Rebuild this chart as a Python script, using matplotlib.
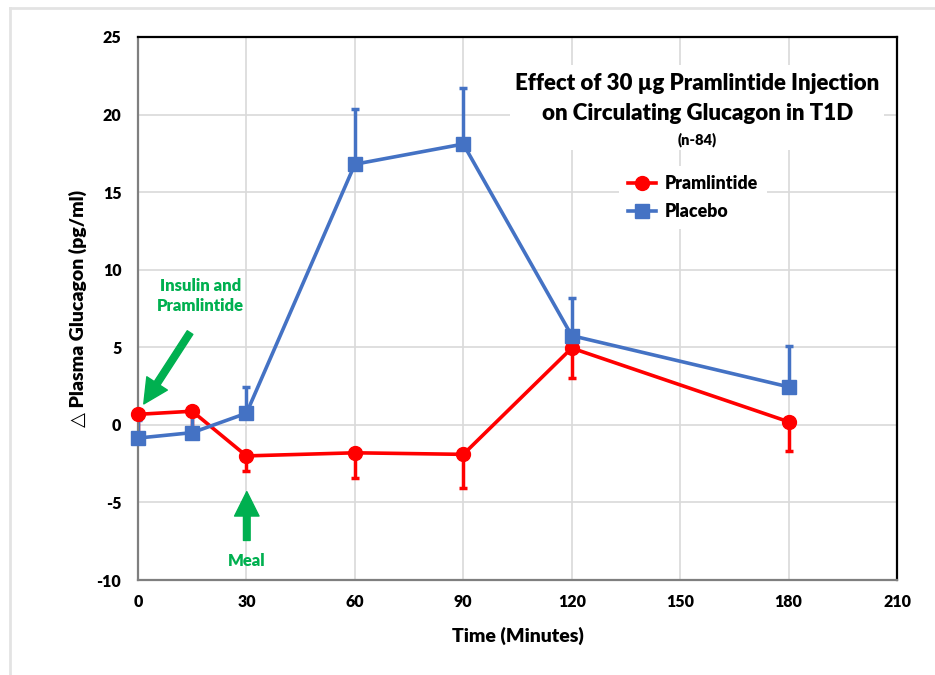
import matplotlib
matplotlib.use("Agg")
import matplotlib.pyplot as plt
from matplotlib.lines import Line2D
from matplotlib.patches import Rectangle

plt.rcParams["font.family"] = ["Lato", "DejaVu Sans"]
plt.rcParams["font.weight"] = 800
plt.rcParams["axes.labelweight"] = 800
plt.rcParams["axes.unicode_minus"] = False

# ---------------------------------------------------------------------------
# Data
# ---------------------------------------------------------------------------
time_min = [0, 15, 30, 60, 90, 120, 180]

pram_mean = [0.68, 0.88, -2.0, -1.8, -1.9, 4.95, 0.2]
pram_err_low = [1.2, 1.3, 1.0, 1.6, 2.2, 1.9, 1.9]

plac_mean = [-0.85, -0.5, 0.75, 16.8, 18.1, 5.75, 2.45]
plac_err_high = [1.15, 1.35, 1.7, 3.55, 3.6, 2.45, 2.65]

x_ticks = [0, 30, 60, 90, 120, 150, 180, 210]
y_ticks = [-10, -5, 0, 5, 10, 15, 20, 25]

RED = "#FF0000"
BLUE = "#4472C4"
GREEN = "#00B050"
W = 800

fig = plt.figure(figsize=(9.35, 6.75), dpi=100)
ax = fig.add_axes([0.1476, 0.1407, 0.8118, 0.8045])

ax.set_xlim(0, 210)
ax.set_ylim(-10, 25)
ax.set_xticks(x_ticks)
ax.set_yticks(y_ticks)
ax.grid(True, color="#D9D9D9", linewidth=1.2, zorder=0)
ax.set_axisbelow(True)
ax.tick_params(length=0, labelsize=11.5)
ax.tick_params(axis="y", pad=12)
ax.tick_params(axis="x", pad=10)
for lab in ax.get_xticklabels() + ax.get_yticklabels():
    lab.set_fontweight(W)

for side in ("top", "right"):
    ax.spines[side].set_color("black")
    ax.spines[side].set_linewidth(1.6)
for side in ("left", "bottom"):
    ax.spines[side].set_color("#7F7F7F")
    ax.spines[side].set_linewidth(1.6)

# error bars (one-sided)
ax.errorbar(time_min, pram_mean, yerr=[pram_err_low, [0] * len(time_min)],
            fmt="none", ecolor=RED, elinewidth=2.5, capsize=3, capthick=2.5, zorder=2)
ax.errorbar(time_min, plac_mean, yerr=[[0] * len(time_min), plac_err_high],
            fmt="none", ecolor=BLUE, elinewidth=2.5, capsize=3, capthick=2.5, zorder=2)

ax.plot(time_min, pram_mean, color=RED, linewidth=2.6, marker="o",
        markersize=10, label="Pramlintide", zorder=3, clip_on=False)
ax.plot(time_min, plac_mean, color=BLUE, linewidth=2.6, marker="s",
        markersize=9.5, label="Placebo", zorder=4, clip_on=False)

# title block with white background
ax.add_patch(Rectangle((103, 17.7), 103.5, 5.5, facecolor="white",
                       edgecolor="none", zorder=1))
ax.text(154.7, 22.0, "Effect of 30 µg Pramlintide Injection", ha="center",
        va="center", fontsize=16, fontweight=W, zorder=5)
ax.text(154.7, 20.05, "on Circulating Glucagon in T1D", ha="center",
        va="center", fontsize=16, fontweight=W, zorder=5)
ax.text(154.7, 18.4, "(n-84)", ha="center", va="center", fontsize=10.5,
        fontweight=W, zorder=5)

leg = ax.legend(loc="upper left", bbox_to_anchor=(0.622, 0.778), frameon=True,
                fancybox=False, edgecolor="none", framealpha=1,
                prop={"size": 12.8, "weight": W},
                handlelength=1.6, handletextpad=0.5, labelspacing=0.6,
                borderpad=0.5)
leg.set_zorder(5)

# annotations
ax.annotate("", xy=(1.6, 1.35), xytext=(14.4, 5.95),
            arrowprops=dict(arrowstyle="simple,head_width=1.1,head_length=1.1,tail_width=0.3",
                            color=GREEN, mutation_scale=16, shrinkA=0, shrinkB=0),
            zorder=5)
ax.text(17.2, 8.3, "Insulin and\nPramlintide", color=GREEN, ha="center",
        va="center", fontsize=12, fontweight=W, linespacing=1.35, zorder=5)
ax.annotate("", xy=(30.1, -4.3), xytext=(30.1, -7.45),
            arrowprops=dict(arrowstyle="simple,head_width=1.1,head_length=1.1,tail_width=0.3",
                            color=GREEN, mutation_scale=16, shrinkA=0, shrinkB=0),
            zorder=5)
ax.text(30.1, -8.8, "Meal", color=GREEN, ha="center", va="center",
        fontsize=12, fontweight=W, zorder=5)

ax.set_xlabel("Time (Minutes)", fontsize=14, fontweight=W, labelpad=12)
ax.set_ylabel("△ Plasma Glucagon (pg/ml)", fontsize=14, fontweight=W)
ax.yaxis.set_label_coords(-0.067, 0.5)

# outer frame of the slide
fig.add_artist(Line2D([10 / 935, 10 / 935], [0, 1 - 8 / 675],
                      transform=fig.transFigure, color="#E3E3E3", linewidth=2))
fig.add_artist(Line2D([10 / 935, 1], [1 - 8 / 675, 1 - 8 / 675],
                      transform=fig.transFigure, color="#E3E3E3", linewidth=2))

fig.savefig("out.png", dpi=100)
